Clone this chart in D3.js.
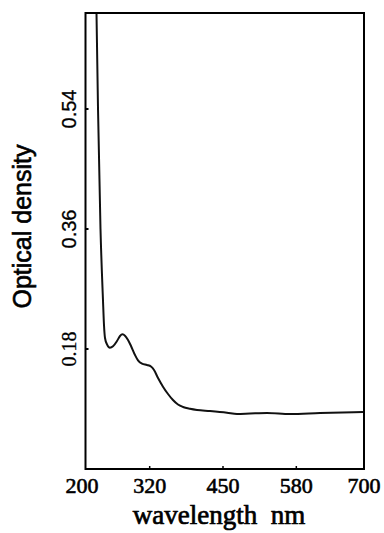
<!DOCTYPE html>
<html>
<head>
<meta charset="utf-8">
<script src="https://cdn.jsdelivr.net/npm/d3@7"></script>
<style>
  body { margin: 0; background: #fff; }
  svg { display: block; }
</style>
</head>
<body>
<div id="chart"></div>
<script>
const width = 384, height = 533;

// spectrum
const wavelength = [225.7, 228.4, 232.8, 237.2, 239.0, 240.8, 244.3, 249.6, 255.0, 262.1,
    267.4, 271.8, 276.2, 281.6, 286.9, 294.0, 299.3, 306.4, 315.2, 322.3,
    327.7, 334.8, 343.6, 352.5, 361.3, 370.2, 379.1, 391.5, 403.9, 427.0,
    457.1, 474.8, 497.9, 528.0, 568.8, 622.0, 698.2];
const density = [0.684, 0.540, 0.360, 0.2535, 0.216, 0.1965, 0.187, 0.182, 0.184, 0.192,
    0.1995, 0.202, 0.200, 0.1935, 0.1845, 0.171, 0.163, 0.158, 0.156, 0.1537,
    0.1485, 0.1365, 0.1235, 0.1125, 0.1035, 0.0967, 0.093, 0.0903, 0.0885, 0.087,
    0.0845, 0.0825, 0.0832, 0.084, 0.0825, 0.084, 0.0855];

const xTicks = [200, 320, 450, 580, 700];
const yTicks = [0.18, 0.36, 0.54];

const frame = { left: 85.5, right: 364, top: 13, bottom: 469 };

const svg = d3.select("#chart")
    .append("svg")
    .attr("width", width)
    .attr("height", height);

const x = d3.scaleLinear().domain([200, 700]).range([82, 364]);
const y = d3.scaleLinear().domain([0, 0.684]).range([469, 13]);

// clip so the steep edge stops at the frame
svg.append("clipPath").attr("id", "clip")
    .append("rect")
    .attr("x", frame.left)
    .attr("y", frame.top)
    .attr("width", frame.right - frame.left)
    .attr("height", frame.bottom - frame.top);

const line = d3.line()
    .x(d => x(d[0]))
    .y(d => y(d[1]))
    .curve(d3.curveMonotoneX);

svg.append("path")
    .datum(d3.zip(wavelength, density))
    .attr("clip-path", "url(#clip)")
    .attr("d", line)
    .attr("fill", "none")
    .attr("stroke", "#111")
    .attr("stroke-width", 2)
    .attr("stroke-linejoin", "round");

//frame
svg.append("rect")
    .attr("x", frame.left)
    .attr("y", frame.top)
    .attr("width", frame.right - frame.left)
    .attr("height", frame.bottom - frame.top)
    .attr("fill", "none")
    .attr("stroke", "#000")
    .attr("stroke-width", 2);

// x ticks (inward) and labels
svg.selectAll(".xtick")
    .data(xTicks.slice(1, -1))
    .enter()
    .append("line")
    .attr("x1", d => x(d)).attr("x2", d => x(d))
    .attr("y1", frame.bottom).attr("y2", frame.bottom - 3)
    .attr("stroke", "#000")
    .attr("stroke-width", 1.5);

svg.selectAll(".xlabel")
    .data(xTicks)
    .enter()
    .append("text")
    .attr("x", d => x(d))
    .attr("y", 493)
    .attr("text-anchor", "middle")
    .attr("font-family", "Liberation Serif")
    .attr("font-size", 22)
    .attr("fill", "#000")
    .attr("stroke", "#000")
    .attr("stroke-width", 0.6)
    .text(d => d);

// y ticks and labels
svg.selectAll(".ytick")
    .data(yTicks)
    .enter()
    .append("line")
    .attr("x1", frame.left).attr("x2", frame.left + 3)
    .attr("y1", d => y(d)).attr("y2", d => y(d))
    .attr("stroke", "#000")
    .attr("stroke-width", 2);

svg.selectAll(".ylabel")
    .data(yTicks)
    .enter()
    .append("text")
    .attr("transform", d => `translate(75.5,${y(d)}) rotate(-90)`)
    .attr("text-anchor", "middle")
    .attr("font-family", d => d === 0.18 ? "Liberation Serif" : "Liberation Sans")
    .attr("font-size", 20)
    .attr("fill", "#000")
    .attr("stroke", "#000")
    .attr("stroke-width", 0.3)
    .text(d => d.toFixed(2));

// axis titles
svg.append("text")
    .attr("x", 219)
    .attr("y", 524)
    .attr("text-anchor", "middle")
    .attr("font-family", "Liberation Serif")
    .attr("font-size", 27)
    .attr("xml:space", "preserve")
    .style("white-space", "pre")
    .attr("fill", "#000")
    .attr("stroke", "#000")
    .attr("stroke-width", 0.7)
    .text("wavelength  nm");

svg.append("text")
    .attr("transform", "translate(31,226.5) rotate(-90)")
    .attr("text-anchor", "middle")
    .attr("font-family", "Liberation Sans")
    .attr("font-size", 25)
    .attr("fill", "#000")
    .attr("stroke", "#000")
    .attr("stroke-width", 0.6)
    .text("Optical density");
</script>
</body>
</html>
